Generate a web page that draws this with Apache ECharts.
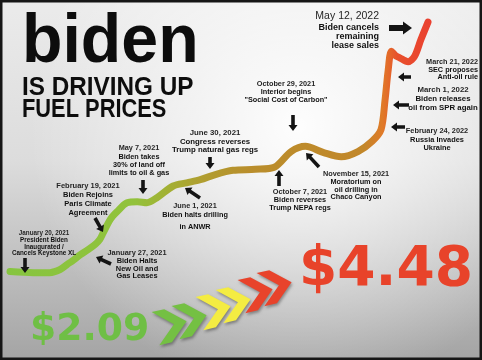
<!DOCTYPE html>
<html><head><meta charset="utf-8">
<script src="https://cdn.jsdelivr.net/npm/echarts@6/dist/echarts.min.js"></script>
<style>html,body{margin:0;padding:0;background:#fff}#c{width:482px;height:360px}</style>
</head><body><div id="c"></div>
<script>
// ---- data ----
const dates = ['2021-01-04','2021-02-02','2021-02-23','2021-03-08','2021-03-17','2021-03-23','2021-04-02','2021-04-12','2021-04-21','2021-04-27','2021-05-01','2021-05-10','2021-05-18','2021-05-31','2021-06-13','2021-06-25','2021-07-08','2021-07-28','2021-08-14','2021-08-31','2021-09-19','2021-10-11','2021-11-08','2021-12-02','2021-12-23','2022-01-10','2022-02-02','2022-02-24','2022-03-17','2022-04-04','2022-04-15','2022-04-20','2022-04-24','2022-04-28','2022-05-03','2022-05-08','2022-05-19','2022-05-27','2022-06-04','2022-06-13'];
const prices = [2.09,2.08,2.08,2.11,2.16,2.19,2.25,2.30,2.35,2.40,2.46,2.59,2.66,2.75,2.76,2.75,2.80,2.91,2.94,2.97,3.02,3.06,3.07,3.09,3.24,3.29,3.23,3.19,3.24,3.34,3.45,3.73,4.02,4.20,4.16,4.14,4.10,4.15,4.31,4.48];
const titleLines = ['biden','IS DRIVING UP','FUEL PRICES'];
const events = [
  ['January 20, 2021','President Biden','Inaugurated /','Cancels Keystone XL'],
  ['January 27, 2021','Biden Halts','New Oil and','Gas Leases'],
  ['February 19, 2021','Biden Rejoins','Paris Climate','Agreement'],
  ['May 7, 2021','Biden takes','30% of land off','limits to oil & gas'],
  ['June 30, 2021','Congress reverses','Trump natural gas regs'],
  ['June 1, 2021','Biden halts drilling','in ANWR'],
  ['October 29, 2021','Interior begins','"Social Cost of Carbon"'],
  ['October 7, 2021','Biden reverses','Trump NEPA regs'],
  ['November 15, 2021','Moratorium on','oil drilling in','Chaco Canyon'],
  ['February 24, 2022','Russia Invades','Ukraine'],
  ['March 1, 2022','Biden releases','oil from SPR again'],
  ['March 21, 2022','SEC proposes','Anti-oil rule'],
  ['May 12, 2022','Biden cancels','remaining','lease sales']
];

// ---- layout (positions / styles) ----
const evLayout = [
  {x:44, ys:[233,240,247,253.5], size:6.3, align:'center', arrow:[25,258,25,273]},
  {x:137, ys:[253,261,268.5,276], size:7.4, align:'center', arrow:[111,264,96,257]},
  {x:88, ys:[186,195,204,213], size:7.5, align:'center', arrow:[95,218,103,232]},
  {x:139, ys:[148,156.5,164.5,173], size:7.3, align:'center', arrow:[143,180,143,194]},
  {x:215, ys:[133,141.5,149.5], size:7.8, align:'center', arrow:[210,157,210,169]},
  {x:195, ys:[206,215,226.5], size:7.3, align:'center', arrow:[200,198,185,188]},
  {x:286, ys:[83.5,92,99.5], size:7.3, align:'center', arrow:[293,115,293,131]},
  {x:300, ys:[192,200,208.3], size:7.3, align:'center', arrow:[279,186,279,170]},
  {x:356, ys:[173.5,182.3,189.5,197], size:7.3, align:'center', arrow:[319,167,306,153]},
  {x:437, ys:[130.5,140,147.5], size:7.4, align:'center', arrow:[405,127,391,127]},
  {x:443, ys:[90,99,108], size:7.8, align:'center', arrow:[409,105,393,105]},
  {x:478, ys:[62,69.5,77], size:7.3, align:'right', arrow:[411,77,398,77]},
  {x:379, ys:[16,28,37,45.5], size:9, dateSize:10.5, align:'right', arrow:[389,28,412,28], big:true}
];

function arrowPts(x1,y1,x2,y2,bw,hw,hl){
  const dx=x2-x1, dy=y2-y1, L=Math.hypot(dx,dy), ux=dx/L, uy=dy/L, nx=-uy, ny=ux;
  const bx=x2-ux*hl, by=y2-uy*hl;
  return [[x1+nx*bw/2,y1+ny*bw/2],[bx+nx*bw/2,by+ny*bw/2],[bx+nx*hw/2,by+ny*hw/2],[x2,y2],
          [bx-nx*hw/2,by-ny*hw/2],[bx-nx*bw/2,by-ny*bw/2],[x1-nx*bw/2,y1-ny*bw/2]];
}
function chevron(cx,cy,color,rot){
  const h=17,w=19,t=13;
  return {type:'polygon', x:cx, y:cy, rotation:rot, z:5,
    shape:{points:[[-w/2-t/2,-h],[-w/2+t/2,-h],[w/2+t/2,0],[-w/2+t/2,h],[-w/2-t/2,h],[w/2-t/2,0]]},
    style:{fill:color, shadowBlur:3, shadowColor:'rgba(0,0,0,0.35)', shadowOffsetX:1, shadowOffsetY:2}};
}

const g = [];
g.push({type:'rect', z:-20, shape:{x:0,y:0,width:482,height:360},
  style:{fill:new echarts.graphic.LinearGradient(0,0,0,1,[{offset:0,color:'#ebebeb'},{offset:0.45,color:'#dcdcdc'},{offset:1,color:'#a4a4a4'}])}});
g.push({type:'rect', z:-19, shape:{x:0,y:0,width:482,height:360},
  style:{fill:new echarts.graphic.RadialGradient(0.62,0.35,0.75,[{offset:0,color:'rgba(255,255,255,0.95)'},{offset:1,color:'rgba(255,255,255,0)'}])}});

// title
const tl = [{y:43, size:69, sx:0.96},{y:88, size:26, sx:0.935},{y:109.5, size:26, sx:0.84}];
titleLines.forEach((t,i)=>{
  g.push({type:'text', x:22, y:tl[i].y, scaleX:tl[i].sx, z:6,
    style:{text:t, x:0, y:0, align:'left', verticalAlign:'middle', fill:'#0d0d0d',
      font:'bold '+tl[i].size+'px "Liberation Sans", Arial, sans-serif'}});
});

// events
events.forEach((lines,i)=>{
  const L = evLayout[i];
  lines.forEach((t,j)=>{
    const sz = (j===0 && L.dateSize) ? L.dateSize : L.size;
    g.push({type:'text', z:6, style:{text:t, x:L.x, y:L.ys[j], align:L.align, verticalAlign:'middle',
      fill: j===0 ? '#262626' : '#111',
      font:(j===0 && L.big ? '' : 'bold ')+sz+'px "Liberation Sans", Arial, sans-serif'}});
  });
  const a = L.arrow;
  g.push({type:'polygon', z:6, shape:{points: L.big ? arrowPts(a[0],a[1],a[2],a[3],6,13,9) : arrowPts(a[0],a[1],a[2],a[3],3.6,9,6)},
    style:{fill:'#141414'}});
});

// chevrons
g.push(chevron(171,325,'#74c043',0.23));
g.push(chevron(191,319,'#74c043',0.23));
g.push(chevron(215,310,'#f4ec42',0.23));
g.push(chevron(235,303,'#f4ec42',0.23));
g.push(chevron(257,293,'#e8432b',0.23));
g.push(chevron(276,286,'#e8432b',0.23));

// big prices
g.push({type:'text', x:30, y:330.7, scaleX:1.02, z:6, style:{text:'$'+prices[0].toFixed(2), x:0, y:0, align:'left', verticalAlign:'middle',
  fill:'#6fbf45', font:'bold 37px "DejaVu Sans", sans-serif', shadowBlur:2, shadowColor:'rgba(0,0,0,0.35)', shadowOffsetX:1, shadowOffsetY:1}});
g.push({type:'text', x:299, y:271, z:6, style:{text:'$'+prices[prices.length-1].toFixed(2), x:0, y:0, align:'left', verticalAlign:'middle',
  fill:'#e8432a', font:'bold 55px "DejaVu Sans", sans-serif', shadowBlur:2, shadowColor:'rgba(0,0,0,0.35)', shadowOffsetX:1, shadowOffsetY:1}});

// frame
g.push({type:'rect', z:50, shape:{x:1,y:1,width:480,height:358}, style:{fill:'none', stroke:'#161616', lineWidth:3}});

const chart = echarts.init(document.getElementById('c'), null, {renderer:'canvas'});
chart.setOption({
  animation:false,
  grid:{left:10, right:54, top:20, bottom:79},
  xAxis:{type:'time', min:'2021-01-04', max:'2022-06-13', show:false},
  yAxis:{type:'value', min:2.0, max:4.5, show:false},
  graphic:g,
  series:[{type:'line', data:dates.map((d,i)=>[d,prices[i]]), smooth:0.3, symbol:'none', z:3,
    lineStyle:{width:7, cap:'round', join:'round',
      color:new echarts.graphic.LinearGradient(0,0,1,0,[
        {offset:0,color:'#86c540'},{offset:0.3,color:'#92c23b'},{offset:0.38,color:'#a3b034'},
        {offset:0.46,color:'#b09e30'},{offset:0.57,color:'#b98e2c'},{offset:0.84,color:'#c2872a'},{offset:0.885,color:'#e07a28'},
        {offset:0.92,color:'#e8502c'},{offset:1,color:'#ea4030'}])}}]
});
</script></body></html>
